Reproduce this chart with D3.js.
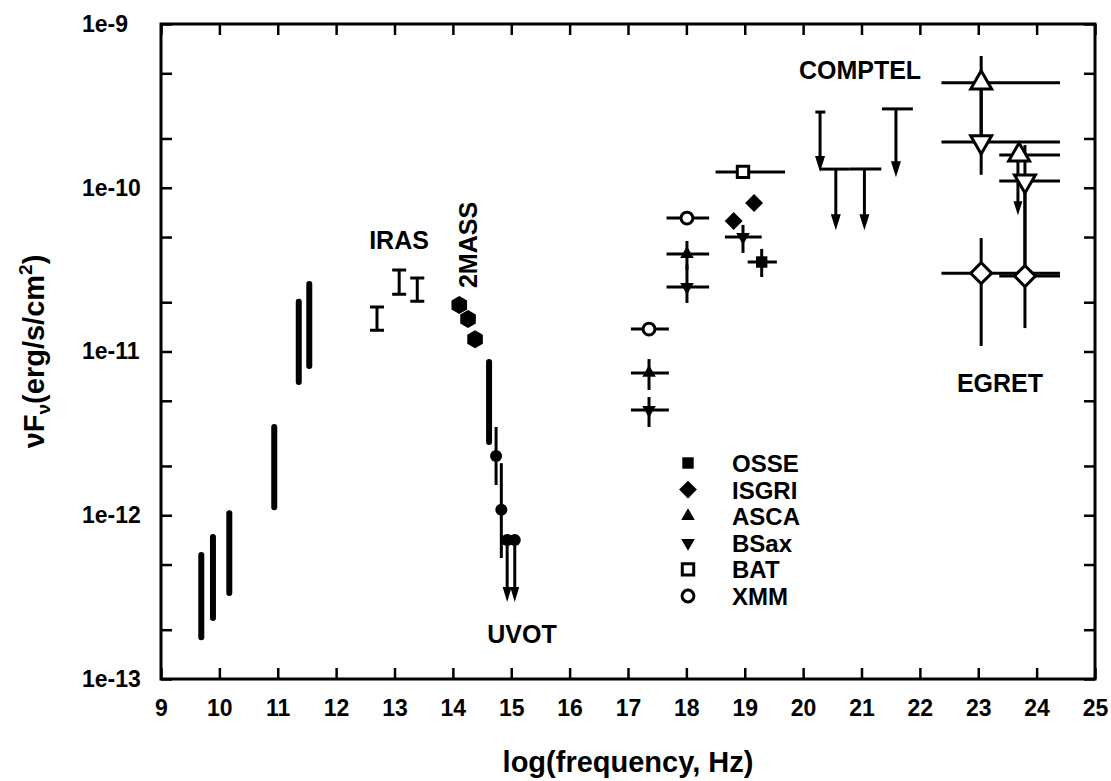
<!DOCTYPE html>
<html>
<head>
<meta charset="utf-8">
<script src="https://cdn.jsdelivr.net/npm/d3@7"></script>
<style>
body { margin: 0; background: #fff; }
svg text { font-family: "Liberation Sans", Arial, Helvetica, sans-serif; font-weight: bold; fill: #000; }
</style>
</head>
<body>
<svg id="chart" width="1111" height="781"></svg>
<script>
// ---- data: log(frequency, Hz) and nuFnu (erg/s/cm2) ----

// axis ticks
var xTickValues = [9, 10, 11, 12, 13, 14, 15, 16, 17, 18, 19, 20, 21, 22, 23, 24, 25];
var yMajor = [1e-13, 1e-12, 1e-11, 1e-10, 1e-9];
var yTickLabels = ["1e-13", "1e-12", "1e-11", "1e-10", "1e-9"];
var yMinor = [2e-13, 5e-13, 2e-12, 5e-12, 2e-11, 5e-11, 2e-10, 5e-10];

// radio (thick bars)
var radioNu = [9.69, 9.89, 10.17, 10.94, 11.36, 11.54];
var radioLo = [1.80e-13, 2.36e-13, 3.35e-13, 1.12e-12, 6.52e-12, 8.15e-12];
var radioHi = [5.71e-13, 7.36e-13, 1.03e-12, 3.46e-12, 2.01e-11, 2.58e-11];

// IRAS
var irasNu = [12.70, 13.08, 13.39];
var irasLo = [1.35e-11, 2.24e-11, 2.03e-11];
var irasHi = [1.87e-11, 3.15e-11, 2.81e-11];

// 2MASS
var tmassNu = [14.11, 14.26, 14.38];
var tmassF = [1.92e-11, 1.58e-11, 1.19e-11];

// UVOT
var uvotBarNu = [14.62];
var uvotBarLo = [2.80e-12];
var uvotBarHi = [8.63e-12];
var uvotNu = [14.74, 14.83];
var uvotF = [2.30e-12, 1.08e-12];
var uvotLo = [1.53e-12, 5.48e-13];
var uvotHi = [3.46e-12, 2.08e-12];
var uvotUlNu = [14.93, 15.06];
var uvotUlF = [7.06e-13, 7.06e-13];
var uvotUlTip = [2.95e-13, 2.95e-13];

// XMM
var xmmNu = [17.36, 18.01];
var xmmF = [1.37e-11, 6.53e-11];
var xmmNuLo = [17.05, 17.66];
var xmmNuHi = [17.70, 18.39];

// ASCA
var ascaNu = [17.36, 18.01];
var ascaF = [7.40e-12, 3.94e-11];
var ascaLo = [5.82e-12, 3.16e-11];
var ascaHi = [8.99e-12, 4.73e-11];
var ascaNuLo = [17.05, 17.66];
var ascaNuHi = [17.70, 18.39];

// BeppoSAX
var bsaxNu = [17.36, 18.01, 18.97];
var bsaxF = [4.40e-12, 2.48e-11, 5.01e-11];
var bsaxLo = [3.46e-12, 1.98e-11, 4.00e-11];
var bsaxHi = [5.27e-12, 3.39e-11, 5.93e-11];
var bsaxNuLo = [17.05, 17.66, 18.66];
var bsaxNuHi = [17.70, 18.39, 19.29];

// ISGRI
var isgriNu = [18.81, 19.16];
var isgriF = [6.27e-11, 8.07e-11];

// OSSE
var osseNu = [19.29];
var osseF = [3.52e-11];
var osseLo = [2.85e-11];
var osseHi = [4.23e-11];
var osseNuLo = [19.05];
var osseNuHi = [19.55];

// BAT
var batNu = [18.97];
var batF = [1.25e-10];
var batNuLo = [18.50];
var batNuHi = [19.69];

// COMPTEL upper limits
var comptelNu = [20.29, 20.56, 21.05, 21.59];
var comptelF = [2.90e-10, 1.30e-10, 1.30e-10, 3.03e-10];
var comptelTip = [1.25e-10, 5.5e-11, 5.5e-11, 1.16e-10];
var comptelNuLo = [20.21, 20.29, 20.80, 21.35];
var comptelNuHi = [20.38, 20.80, 21.34, 21.88];

// EGRET (open symbols)
var egretUpNu = [23.05, 23.70];
var egretUpF = [4.37e-10, 1.585e-10];
var egretUpLo = [2.00e-10, 1.585e-10];
var egretUpHi = [6.38e-10, 1.82e-10];
var egretUpNuLo = [22.37, 23.36];
var egretUpNuHi = [24.40, 24.40];
var egretUlNu = [23.68];
var egretUlF = [1.585e-10];
var egretUlTip = [6.8e-11];

var egretDnNu = [23.05, 23.80];
var egretDnF = [1.905e-10, 1.10e-10];
var egretDnLo = [1.20e-10, 3.00e-11];
var egretDnHi = [4.37e-10, 1.82e-10];
var egretDnNuLo = [22.37, 23.36];
var egretDnNuHi = [24.40, 24.40];

var egretDiaNu = [23.05, 23.80];
var egretDiaF = [3.01e-11, 2.89e-11];
var egretDiaLo = [1.08e-11, 1.39e-11];
var egretDiaHi = [4.93e-11, 1.10e-10];
var egretDiaNuLo = [22.37, 23.36];
var egretDiaNuHi = [24.40, 24.40];

var legendNames = ["OSSE", "ISGRI", "ASCA", "BSax", "BAT", "XMM"];

// ---- chart ----
var svg = d3.select("#chart");
var plotLeft = 161, plotRight = 1095, plotTop = 24, plotBottom = 679;

var x = d3.scaleLinear().domain([9, 25]).range([plotLeft, plotRight]);
var y = d3.scaleLog().domain([1e-13, 1e-9]).range([plotBottom, plotTop]);

// build row objects from the arrays
function rows(nu, f, lo, hi, nuLo, nuHi) {
    return nu.map(function(n, i) {
        return {
            nu: n,
            f: f ? f[i] : null,
            lo: lo ? lo[i] : null,
            hi: hi ? hi[i] : null,
            nuLo: nuLo ? nuLo[i] : null,
            nuHi: nuHi ? nuHi[i] : null
        };
    });
}

// marker styles
var markers = {
    osse:  { shape: d3.symbolSquare, size: 130, rot: 0, fill: "#000", stroke: "none" },
    isgri: { shape: d3.symbolSquare, size: 160, rot: 45, fill: "#000", stroke: "none" },
    asca:  { shape: d3.symbolTriangle, size: 80, rot: 0, fill: "#000", stroke: "none" },
    bsax:  { shape: d3.symbolTriangle, size: 80, rot: 180, fill: "#000", stroke: "none" },
    bat:   { shape: d3.symbolSquare, size: 130, rot: 0, fill: "#fff", stroke: "#000" },
    xmm:   { shape: d3.symbolCircle, size: 110, rot: 0, fill: "#fff", stroke: "#000" },
    egUp:  { shape: d3.symbolTriangle, size: 190, rot: 0, fill: "#fff", stroke: "#000" },
    egDn:  { shape: d3.symbolTriangle, size: 190, rot: 180, fill: "#fff", stroke: "#000" },
    egDia: { shape: d3.symbolSquare, size: 220, rot: 45, fill: "#fff", stroke: "#000" }
};

var lines = svg.append("g").attr("stroke", "#000").attr("fill", "none");
var marks = svg.append("g");

function vErr(data, width, cap) {
    lines.append("g").selectAll("line")
        .data(data.filter(function(d) { return d.lo != null; }))
        .join("line")
        .attr("x1", function(d) { return x(d.nu); })
        .attr("x2", function(d) { return x(d.nu); })
        .attr("y1", function(d) { return y(d.lo); })
        .attr("y2", function(d) { return y(d.hi); })
        .attr("stroke-width", width)
        .attr("stroke-linecap", cap || "butt");
}

function hErr(data, width) {
    lines.append("g").selectAll("line")
        .data(data)
        .join("line")
        .attr("x1", function(d) { return x(d.nuLo); })
        .attr("x2", function(d) { return x(d.nuHi); })
        .attr("y1", function(d) { return y(d.f); })
        .attr("y2", function(d) { return y(d.f); })
        .attr("stroke-width", width);
}

function arrows(data, w, h) {
    var g = lines.append("g");
    g.selectAll("line")
        .data(data)
        .join("line")
        .attr("x1", function(d) { return x(d.nu); })
        .attr("x2", function(d) { return x(d.nu); })
        .attr("y1", function(d) { return y(d.f); })
        .attr("y2", function(d) { return y(d.tip) - h + 2; })
        .attr("stroke-width", 3);
    g.selectAll("path")
        .data(data)
        .join("path")
        .attr("fill", "#000")
        .attr("stroke", "none")
        .attr("d", function(d) {
            var px = x(d.nu), py = y(d.tip);
            return "M" + px + "," + py + "L" + (px - w / 2) + "," + (py - h) + "L" + (px + w / 2) + "," + (py - h) + "Z";
        });
}

function drawMarkers(data, m) {
    marks.append("g").selectAll("path")
        .data(data)
        .join("path")
        .attr("d", d3.symbol().type(m.shape).size(m.size))
        .attr("transform", function(d) {
            return "translate(" + x(d.nu) + "," + y(d.f) + ") rotate(" + m.rot + ")";
        })
        .attr("fill", m.fill)
        .attr("stroke", m.stroke)
        .attr("stroke-width", 3);
}

// radio bars
vErr(rows(radioNu, null, radioLo, radioHi), 6, "round");

// IRAS I-beams
var iras = rows(irasNu, null, irasLo, irasHi);
vErr(iras, 3);
lines.append("g").selectAll("path")
    .data(iras)
    .join("path")
    .attr("stroke-width", 3)
    .attr("d", function(d) {
        var px = x(d.nu);
        return "M" + (px - 7) + "," + y(d.lo) + "H" + (px + 7) +
               "M" + (px - 7) + "," + y(d.hi) + "H" + (px + 7);
    });

// 2MASS hexagons
var hex = d3.range(6).map(function(k) {
    var a = Math.PI / 3 * k;
    return [9 * Math.sin(a), -9 * Math.cos(a)];
});
marks.append("g").selectAll("path")
    .data(rows(tmassNu, tmassF))
    .join("path")
    .attr("d", d3.line()(hex) + "Z")
    .attr("transform", function(d) { return "translate(" + x(d.nu) + "," + y(d.f) + ")"; })
    .attr("fill", "#000");

// UVOT
vErr(rows(uvotBarNu, null, uvotBarLo, uvotBarHi), 6, "round");
var uvot = rows(uvotNu, uvotF, uvotLo, uvotHi);
vErr(uvot, 3);
var uvotUl = rows(uvotUlNu, uvotUlF).map(function(d, i) { d.tip = uvotUlTip[i]; return d; });
arrows(uvotUl, 9, 15);
marks.append("g").selectAll("circle")
    .data(uvot.concat(uvotUl))
    .join("circle")
    .attr("cx", function(d) { return x(d.nu); })
    .attr("cy", function(d) { return y(d.f); })
    .attr("r", 6)
    .attr("fill", "#000");

// X-ray
var xmm = rows(xmmNu, xmmF, null, null, xmmNuLo, xmmNuHi);
var asca = rows(ascaNu, ascaF, ascaLo, ascaHi, ascaNuLo, ascaNuHi);
var bsax = rows(bsaxNu, bsaxF, bsaxLo, bsaxHi, bsaxNuLo, bsaxNuHi);
var osse = rows(osseNu, osseF, osseLo, osseHi, osseNuLo, osseNuHi);
var bat = rows(batNu, batF, null, null, batNuLo, batNuHi);
var isgri = rows(isgriNu, isgriF);
[xmm, asca, bsax, osse, bat].forEach(function(s) { hErr(s, 3); });
[asca, bsax, osse].forEach(function(s) { vErr(s, 3); });

// COMPTEL
var comptel = rows(comptelNu, comptelF, null, null, comptelNuLo, comptelNuHi)
    .map(function(d, i) { d.tip = comptelTip[i]; return d; });
hErr(comptel, 3);
arrows(comptel, 10, 16);

// EGRET
var egUp = rows(egretUpNu, egretUpF, egretUpLo, egretUpHi, egretUpNuLo, egretUpNuHi);
var egDn = rows(egretDnNu, egretDnF, egretDnLo, egretDnHi, egretDnNuLo, egretDnNuHi);
var egDia = rows(egretDiaNu, egretDiaF, egretDiaLo, egretDiaHi, egretDiaNuLo, egretDiaNuHi);
[egUp, egDn, egDia].forEach(function(s) { hErr(s, 3); vErr(s, 3); });
var egUl = rows(egretUlNu, egretUlF).map(function(d, i) { d.tip = egretUlTip[i]; return d; });
arrows(egUl, 9, 14);

drawMarkers(xmm, markers.xmm);
drawMarkers(asca, markers.asca);
drawMarkers(bsax, markers.bsax);
drawMarkers(isgri, markers.isgri);
drawMarkers(osse, markers.osse);
drawMarkers(bat, markers.bat);
drawMarkers(egUp, markers.egUp);
drawMarkers(egDn, markers.egDn);
drawMarkers(egDia, markers.egDia);

// ---- axes (ticks on all four sides, pointing inward) ----
function styleAxis(g) {
    g.select(".domain").remove();
    g.selectAll(".tick line").attr("stroke", "#000").attr("stroke-width", 2.5);
    g.attr("font-family", null).attr("font-size", null);
}

svg.append("g")
    .attr("transform", "translate(0," + plotBottom + ")")
    .call(d3.axisBottom(x).tickValues(xTickValues).tickSize(-11).tickPadding(21))
    .call(styleAxis)
    .selectAll("text")
    .attr("font-size", 23);

svg.append("g")
    .attr("transform", "translate(0," + plotTop + ")")
    .call(d3.axisTop(x).tickValues(xTickValues).tickSize(-11).tickFormat(""))
    .call(styleAxis);

var yLabelOf = new Map(yMajor.map(function(v, i) { return [v, yTickLabels[i]]; }));
svg.append("g")
    .attr("transform", "translate(" + plotLeft + ",0)")
    .call(d3.axisLeft(y).tickValues(yMajor.concat(yMinor)).tickSize(-11)
        .tickFormat(function(d) { return yLabelOf.get(d) || ""; }))
    .call(styleAxis)
    .selectAll("text")
    .attr("x", -79)
    .attr("text-anchor", "start")
    .attr("font-size", 23);

svg.append("g")
    .attr("transform", "translate(" + plotRight + ",0)")
    .call(d3.axisRight(y).tickValues(yMajor.concat(yMinor)).tickSize(-11).tickFormat(""))
    .call(styleAxis);

// frame
svg.append("rect")
    .attr("x", plotLeft).attr("y", plotTop)
    .attr("width", plotRight - plotLeft).attr("height", plotBottom - plotTop)
    .attr("fill", "none").attr("stroke", "#000").attr("stroke-width", 3);

// ---- titles ----
svg.append("text")
    .attr("x", (plotLeft + plotRight) / 2)
    .attr("y", 772)
    .attr("text-anchor", "middle")
    .attr("font-size", 29)
    .text("log(frequency, Hz)");

var yt = svg.append("text")
    .attr("transform", "translate(44," + ((plotTop + plotBottom) / 2) + ") rotate(-90)")
    .attr("text-anchor", "middle")
    .attr("font-size", 29);
yt.append("tspan").text("\u03BDF");
yt.append("tspan").attr("font-size", 19).attr("dy", 6).text("\u03BD");
yt.append("tspan").attr("dy", -6).text("(erg/s/cm");
yt.append("tspan").attr("font-size", 19).attr("dy", -12).text("2");
yt.append("tspan").attr("dy", 12).text(")");

// ---- instrument labels ----
function label(txt, px, py, rot) {
    svg.append("text")
        .attr("transform", "translate(" + px + "," + py + ")" + (rot ? " rotate(" + rot + ")" : ""))
        .attr("text-anchor", "middle")
        .attr("font-size", 25)
        .text(txt);
}
label("IRAS", 399, 249);
label("2MASS", 477, 245, -90);
label("UVOT", 522, 643);
label("COMPTEL", 860, 79);
label("EGRET", 1000, 392);

// ---- legend ----
var legendKeys = ["osse", "isgri", "asca", "bsax", "bat", "xmm"];
var legend = svg.append("g");
legendNames.forEach(function(name, i) {
    var ly = 463 + i * 26.6;
    var m = markers[legendKeys[i]];
    legend.append("path")
        .attr("d", d3.symbol().type(m.shape).size(m.size)())
        .attr("transform", "translate(688," + ly + ") rotate(" + m.rot + ")")
        .attr("fill", m.fill)
        .attr("stroke", m.stroke)
        .attr("stroke-width", 3);
    legend.append("text")
        .attr("x", 732)
        .attr("y", ly + 9)
        .attr("font-size", 24)
        .text(name);
});
</script>
</body>
</html>
